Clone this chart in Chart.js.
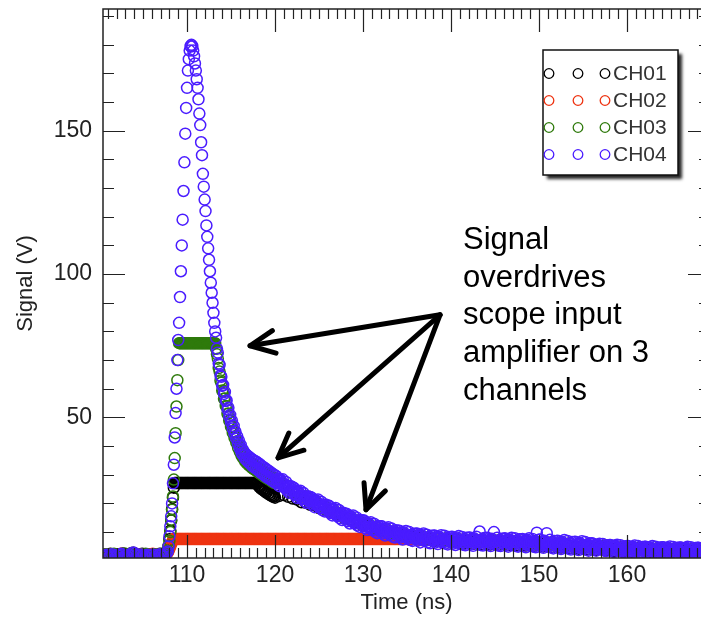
<!DOCTYPE html>
<html>
<head>
<meta charset="utf-8">
<style>
html,body{margin:0;padding:0;background:#fff;overflow:hidden;}
#wrap{width:720px;height:617px;}
canvas{display:block;}
</style>
<script src="https://cdn.jsdelivr.net/npm/chart.js@4.4.1/dist/chart.umd.min.js"></script>
</head>
<body>
<div id="wrap"><canvas id="c" width="720" height="617"></canvas></div>
<script>
// ---------------- DATA ----------------
const channelNames = ['CH01', 'CH02', 'CH03', 'CH04'];
const xTickLabels = [110, 120, 130, 140, 150, 160];
const yTickLabels = [50, 100, 150];
const xRange = [100.45, 169.43];
const yRange = [0.95, 192.5];

// Sampling windows: [start time (ns), sample interval (ns)]
const baseWin = [100.5, 0.2];
const pulseWin = [107.8, 0.1];
const tailWinFine = [120.125, 0.125];
const tailWinMid = [120.1875, 0.25];
const tailWinCoarse = [120.5, 0.5];
const lateWin = [138.5, 0.5];

// CH01 (black)
const ch01Base = [1.7,2.2,1.5,2.0,2.4,1.6,1.9,2.3,1.4,2.1,1.8,2.5,1.7,2.0,2.2,1.5,2.6,2.8,2.3,1.9,2.0,1.6,2.4,1.7,2.1,1.9,1.5,2.3,1.8,2.2,1.6,2.0,2.4,1.8,2.1,2.6,3.0];
const ch01Pulse = [3.0,5.0,7.5,10.5,14.0,18.0,22.0,25.5,
27.1,27.1,27.1,27.1,27.1,27.1,27.1,27.1,27.1,27.1,
27.1,27.1,27.1,27.1,27.1,27.1,27.1,27.1,27.1,27.1,
27.1,27.1,27.1,27.1,27.1,27.1,27.1,27.1,27.1,27.1,
27.1,27.1,27.1,27.1,27.1,27.1,27.1,27.1,27.1,27.1,
27.1,27.1,27.1,27.1,27.1,27.1,27.1,27.1,27.1,27.1,
27.1,27.1,27.1,27.1,27.1,27.1,27.1,27.1,27.1,27.1,
27.1,27.1,27.1,27.1,27.1,27.1,27.1,27.1,27.1,27.1,
27.1,27.1,27.1,27.1,27.1,27.1,27.1,27.1,27.1,27.1,
27.1,27.1,27.1,27.1,27.1,27.1,27.1,27.1,27.1,27.1,
27.1,27.1,27.1,27.1,27.1,
26.3,25.8,25.9,25.2,25.4,24.7,24.9,24.3,24.4,23.8,24.0,23.4,23.6,23.0,23.2,22.6,22.8,22.3,22.5,22.0];
const ch01Tail = [22.6,22.9,22.3,21.7,21.3,20.4,20.2,19.5,19.3,18.4,
18.2,17.3,16.8,16.1,15.5,14.6,14.4,13.4,13.1,12.2,
12.0,11.0,11.0,10.0,10.2,9.3,9.5,8.6,8.9,8.0,
8.4,7.5,7.9,7.1,7.6,6.8,7.5,6.6,7.3,6.4,
6.5,7.2,6.0,7.1,5.9,7.0,5.8,6.9,5.7,6.8,
5.6,6.7,5.5,6.6,5.4,6.5,5.3,6.4,5.2,6.2,
5.0,6.0,4.8,5.8,4.6,5.6,4.4,5.4,4.2,5.2,
4.0,5.0,3.8,4.8,3.6,4.6,3.4,4.4,3.2,4.3,
3.1,4.2,3.0,4.1,2.9,4.0,2.8,4.0,2.8,3.9,
2.7,3.9,2.7,3.8,2.6,3.8,2.6,3.7,2.6];

// CH02 (red)
const ch02Base = [1.9,1.5,2.2,1.7,2.0,2.3,1.4,1.8,2.1,1.6,2.4,1.9,1.5,2.2,1.8,2.0,2.5,2.7,2.2,1.8,2.1,1.7,2.3,1.6,2.0,2.2,1.7,1.9,2.4,1.5,2.1,1.8,2.2,2.0,1.7,2.3,2.6];
const ch02Pulse = [2.8,3.4,4.2,5.0,5.8,6.5,7.1,
7.6,7.6,7.6,7.6,7.6,7.6,7.6,7.6,7.6,7.6,
7.6,7.6,7.6,7.6,7.6,7.6,7.6,7.6,7.6,7.6,
7.6,7.6,7.6,7.6,7.6,7.6,7.6,7.6,7.6,7.6,
7.6,7.6,7.6,7.6,7.6,7.6,7.6,7.6,7.6,7.6,
7.6,7.6,7.6,7.6,7.6,7.6,7.6,7.6,7.6,7.6,
7.6,7.6,7.6,7.6,7.6,7.6,7.6,7.6,7.6,7.6,
7.6,7.6,7.6,7.6,7.6,7.6,7.6,7.6,7.6,7.6,
7.6,7.6,7.6,7.6,7.6,7.6,7.6,7.6,7.6,7.6,
7.6,7.6,7.6,7.6,7.6,7.6,7.6,7.6,7.6,7.6,
7.6,7.6,7.6,7.6,7.6,7.6,7.6,7.6,7.6,7.6,
7.6,7.6,7.6,7.6,7.6,7.6,7.6,7.6,7.6,7.6,
7.6,7.6,7.6,7.6,7.6,7.6,7.6,7.6,7.6,7.6,
7.6,7.6,7.6,7.6,7.6,7.6,7.6,7.6,7.6,7.6,
7.6,7.6,7.6,7.6,7.6,7.6,7.6,7.6,7.6,7.6,
7.6,7.6,7.6,7.6,7.6,7.6,7.6,7.6,7.6,7.6,
7.6,7.6,7.6,7.6,7.6,7.6,7.6,7.6,7.6,7.6,
7.6,7.6,7.6,7.6,7.6,7.6,7.6,7.6,7.6,7.6,
7.6,7.6,7.6,7.6,7.6,7.6,7.6,7.6,7.6,7.6,
7.6,7.6,7.6,7.6,7.6,7.6,7.6,7.6,7.6,7.6,
7.6,7.6,7.6,7.6,7.6,7.6,7.6,7.6,7.6,7.6,
7.6,7.6,7.6,7.6,7.6,7.6,7.6,7.6,7.6,7.6,
7.6,7.6,7.6,7.6,7.6,7.6,7.6,7.6,7.6,7.6,
7.6,7.6,7.6,7.6,7.6,7.6,7.6,7.6,7.6,7.6,
7.6,7.6,7.6,7.6,7.6,7.6,7.6,7.6,7.6,7.6,
7.6,7.6,7.6,7.6,7.6,7.6,7.6,7.6,7.6,7.6,
7.6,7.6,7.6,7.6,7.6,7.6,7.6,7.6,7.6,7.6,
7.6,7.6,7.6,7.6,7.6,7.6,7.6,7.6,7.6,7.6,
7.6,7.6,7.6,7.6,7.6,7.6,
7.5,7.6,7.4,7.5,7.3,7.5,7.2,7.4,7.2,7.3];
const ch02Late = [7.9,6.8,7.7,6.7,7.6,6.5,7.5,6.4,7.4,6.3,
7.4,6.2,7.3,6.1,7.2,6.1,7.1,6.0,7.0,5.9,
6.9,5.8,6.8,5.6,6.6,5.5,6.4,5.3,6.2,5.1,
6.0,4.9,5.8,4.7,5.6,4.5,5.4,4.3,5.2,4.1,
5.0,3.9,4.8,3.7,4.6,3.6,4.5,3.5,4.4,3.4,
4.3,3.3,4.3,3.2,4.2,3.2,4.1,3.1,4.1,3.1,
4.0,3.0,4.0];

// CH03 (green)
const ch03Base = [2.0,1.6,2.3,1.5,2.1,1.8,2.4,1.4,1.9,2.2,1.7,2.0,2.5,1.6,1.8,2.3,2.7,2.4,2.0,1.7,2.1,1.5,2.2,1.8,2.4,1.6,2.0,1.9,1.5,2.3,1.8,2.1,1.6,2.4,2.0,2.5,2.9];
const ch03Pulse = [3.5,5.2,7.0,10.0,14.3,17.8,22.4,28.3,35.8,44.5,53.8,63.0,70.0,
75.9,75.9,75.9,75.9,75.9,75.9,75.9,75.9,75.9,75.9,
75.9,75.9,75.9,75.9,75.9,75.9,75.9,75.9,75.9,75.9,
75.9,75.9,75.9,75.9,75.9,75.9,75.9,75.9,75.9,75.9,
75.9,75.9,75.9,75.9,75.9,75.9,75.9,75.9,75.9,75.9,
75.9,75.9,
74.0,72.0,70.5,67.2,66.0,62.9,62.1,59.4,59.0,56.5,
56.6,54.0,53.8,51.2,51.4,48.8,49.0,46.7,46.9,44.6,
45.1,42.8,43.3,41.2,41.7,39.4,40.3,38.0,38.9,36.6,
37.5,35.7,36.5,34.7,35.8,34.0,35.2,33.4,34.7,32.9,
34.2,32.3,33.8,31.9,33.4,31.5,33.0,31.0,32.6,30.6,
32.1,30.1,31.7,29.7,31.2,29.3,30.8,28.9,30.4,28.5,
30.0,28.1,29.6,27.7,29.2,27.3,28.8,27.0];
const ch03Tail = [28.3,25.9,26.2,23.7,24.1,21.8,22.5,20.4,21.0,18.9,
19.5,17.4,18.0,15.9,16.7,14.6,15.3,13.5,14.1,12.2,
12.9,11.1,11.9,10.3,11.1,9.5,10.2,8.9,9.6,8.3,
9.1,7.8,8.6,7.3,8.3,7.0,8.1,6.8,7.9,6.6,
7.7,6.4,7.5,6.3,7.5,6.2,7.4,6.2,7.3,6.0,
7.2,5.9,7.1,5.8,7.0,5.7,6.9,5.6,6.8,5.5,
6.7,5.3,6.5,5.1,6.3,4.9,6.1,4.7,5.9,4.5,
5.7,4.3,5.5,4.1,5.3,3.9,5.1,3.7,4.9,3.5,
4.7,3.4,4.6,3.3,4.5,3.2,4.4,3.1,4.4,3.1,
4.3,3.0,4.3,3.0,4.2,2.9,4.2,2.9,4.1];

// CH04 (blue)
const ch04Base = [1.8,1.4,2.1,1.2,1.9,2.3,1.6,1.3,2.0,1.7,2.4,2.2,1.5,1.9,1.3,1.8,2.6,2.9,2.5,2.1,1.7,2.2,1.5,1.9,1.4,2.1,1.8,1.6,2.2,1.3,2.0,1.7,2.3,1.9,1.5,2.2,2.7];
const ch04Pulse = [3.2,5.0,8.5,12.0,15.5,20.0,27.0,33.5,43.0,51.5,
60.0,70.0,77.0,83.0,92.0,101.0,110.0,119.0,129.0,139.0,
149.0,158.0,165.0,171.0,175.0,178.0,179.5,180.0,179.5,178.0,
176.0,173.5,171.0,168.0,165.0,161.0,156.0,152.0,146.0,141.5,
135.0,130.5,126.0,122.0,117.0,113.0,109.0,105.0,101.0,97.0,
93.5,90.0,86.5,83.0,80.0,77.8,74.0,72.6,68.8,68.3,
64.6,64.2,61.0,61.3,58.2,58.9,55.7,55.9,52.8,53.4,
50.3,50.9,48.2,48.9,46.1,47.0,44.2,45.0,42.6,43.4,
40.7,41.9,39.2,40.4,37.6,38.9,36.8,37.9,35.6,37.1,
35.0,36.6,34.3,36.1,33.8,35.6,33.1,35.2,32.7,34.8,
32.2,34.5,31.8,34.0,31.3,33.6,30.7,33.0,30.3,32.6,
29.8,32.2,29.3,31.7,28.9,31.3,28.6,30.8,28.1,30.4,
27.7,30.0,27.3];
const ch04Tail = [
29.6,26.9,28.3,26.0,28.3,26.7,28.4,25.7,
25.5,27.5,24.5,25.8,23.7,26.1,24.5,25.6,
25.5,22.9,24.2,21.9,24.3,22.7,24.4,21.7,
21.6,23.6,20.7,22.1,20.1,22.5,21.0,22.2,
22.1,19.6,21.0,18.7,21.1,19.6,21.4,18.7,
18.6,20.6,17.7,19.2,17.2,19.6,18.1,19.3,
19.2,16.6,18.0,15.8,18.2,16.6,18.4,15.7,
15.6,17.7,14.8,16.2,14.2,16.7,15.2,16.4,
16.4,13.8,15.3,13.0,15.5,13.9,15.8,13.1,
13.1,15.1,12.3,13.7,11.8,14.2,12.8,14.0,
14.0,11.4,12.9,10.7,13.1,11.6,13.4,10.8,
10.8,12.9,10.1,11.6,9.6,12.1,10.7,12.0,
12.0,9.5,11.0,8.8,11.3,9.8,11.7,9.1,
9.1,11.2,8.4,10.0,8.1,10.6,9.2,10.5,
10.5,8.1,9.6,7.4,9.9,8.5,10.4,7.8,
7.8,10.0,7.2,8.8,6.9,9.4,8.1,9.4,
9.5,7.0,8.6,6.4,9.0,7.5,9.5,6.9,
7.0,9.1,6.4,8.0,6.1,8.7,7.3,8.7,
8.8,6.4,7.9,5.8,8.4,7.0,8.9,6.4,
6.5,8.7,6.0,7.5,5.7,8.3,7.0,8.3,
8.4,6.0,7.6,5.5,8.1,6.6,8.6,6.0,
6.1,8.3,5.6,7.2,5.4,8.0,6.6,8.0,
8.1,5.7,7.3,5.2,7.8,6.4,8.4,5.9,
6.0,10.2,5.5,7.1,5.3,7.9,6.5,7.9,
8.0,5.6,7.2,5.1,7.7,6.3,10.0,5.7,
5.8,8.0,5.3,6.9,5.1,7.7,6.4,7.7,
7.8,5.4,7.0,4.9,7.5,6.1,8.0,5.5,
5.6,7.8,5.1,6.7,4.9,7.5,6.2,7.5,
7.6,5.2,6.8,4.7,7.3,5.9,7.8,5.3,
5.4,7.6,4.9,6.5,4.7,9.8,6.0,7.3,
7.4,5.0,6.6,4.5,7.0,5.6,9.6,5.0,
5.1,7.3,4.6,6.1,4.3,6.9,5.6,6.9,
7.0,4.6,6.2,4.1,6.6,5.2,7.2,4.6,
4.7,6.9,4.2,5.8,3.9,6.5,5.2,6.5,
6.6,4.2,5.8,3.7,6.2,4.8,6.8,4.2,
4.3,6.5,3.8,5.4,3.5,6.1,4.8,6.1,
5.9,4.0,5.3,3.5,5.6,4.4,5.9,4.0,
4.0,5.8,3.6,4.8,3.4,5.4,4.4,5.5,
5.5,3.6,4.9,3.1,5.2,4.1,5.6,3.6,
3.6,5.4,3.2,4.4,3.0,5.0,4.0,5.1,
5.1,3.2,4.5,2.8,4.9,3.7,5.3,3.3,
3.4,5.1,2.9,4.2,2.7,4.8,3.8,4.9,
4.9,3.0,4.3,2.6,4.7,3.5,5.1,3.1,
3.2,4.9,2.7,4.0,2.5,4.6,3.6,4.7,
4.7,2.8,4.1,2.4,4.5,3.4,5.0,3.0,
3.1,4.8,2.6,3.9,2.4,4.5,3.5,4.6,
4.6,2.7,4.0,2.3,4.4,3.3,4.9,2.9,
3.0,4.7,2.5,3.8,2.3,4.4,3.4,4.5,
4.5,2.6,3.9,2.2,4.3,3.2,4.8,2.8,
2.9,4.6,2.5,3.7];
const ch04TailMid = [
28.4,27.2,27.8,26.5, 26.5,25.1,25.7,24.3, 24.4,23.1,23.8,22.5, 22.6,21.4,22.1,20.9,
21.0,19.9,20.6,19.5, 19.6,18.4,19.2,18.0, 18.1,16.9,17.7,16.5, 16.6,15.5,16.2,15.1,
15.3,14.2,15.0,13.9, 14.1,13.0,13.8,12.7, 12.9,11.8,12.6,11.6, 11.8,10.8,11.7,10.7,
11.0,10.0,10.9,9.9, 10.2,9.2,10.1,9.1, 9.5,8.5,9.5,8.5, 8.9,8.0,9.0,8.0,
8.4,7.5,8.5,7.6, 8.0,7.2,8.2,7.3, 7.8,6.9,8.0,7.1, 7.6,6.7,7.8,6.9,
7.4,6.5,7.6,6.7, 7.2,6.4,7.4,6.6, 7.1,6.3,7.4,6.6, 7.1,6.3,7.3,6.5,
7.0,6.2,7.2,6.4, 6.9,6.1,7.1,6.3, 6.8,6.0,7.0,6.2, 6.7,5.9,6.9,6.1,
6.6,5.8,6.8,6.0, 6.5,5.7,6.7,5.9, 6.4,5.5,6.5,5.7, 6.2,5.3,6.3,5.5,
6.0,5.1,6.1,5.3, 5.8,4.9,5.9,5.1, 5.6,4.7,5.7,4.9, 5.4,4.5,5.5,4.7,
5.2,4.3,5.3,4.5, 5.0,4.1,5.1,4.3, 4.8,3.9,4.9,4.1, 4.6,3.7,4.7,3.9,
4.4,3.6,4.6,3.8, 4.3,3.5,4.5,3.7, 4.2,3.4,4.4,3.6, 4.1,3.3,4.3,3.5,
4.0,3.2,4.3,3.5, 4.0,3.2,4.2,3.4, 3.9,3.1,4.2,3.4, 3.9,3.1,4.1,3.3,
3.8,3.0,4.1,3.3, 3.8,3.0];

// Annotation (text and arrow anchors in data units)
const noteLines = ['Signal', 'overdrives', 'scope input', 'amplifier on 3', 'channels'];
const noteTextAnchor = {x: 141.36, y: 108.8};
const noteArrowFrom = {x: 138.75, y: 85.8};
const noteArrowTips = [{x: 117.16, y: 75.0}, {x: 120.34, y: 35.9}, {x: 130.34, y: 17.8}];

// ---------------- BUILD ----------------
const FONT = '"Liberation Sans", Arial, Helvetica, sans-serif';
const colors = {CH01: '#000000', CH02: '#EE3311', CH03: '#2F7A0C', CH04: '#4A1CFF'};

function build(segments) {
  const out = [];
  segments.forEach(([win, vals]) => {
    vals.forEach((v, i) => out.push({x: Math.round((win[0] + i * win[1]) * 10000) / 10000, y: v}));
  });
  return out;
}

const channelSegments = {
  CH01: [[baseWin, ch01Base], [pulseWin, ch01Pulse], [tailWinCoarse, ch01Tail]],
  CH02: [[baseWin, ch02Base], [pulseWin, ch02Pulse], [lateWin, ch02Late]],
  CH03: [[baseWin, ch03Base], [pulseWin, ch03Pulse], [tailWinCoarse, ch03Tail]],
  CH04: [[baseWin, ch04Base], [pulseWin, ch04Pulse], [tailWinFine, ch04Tail], [tailWinMid, ch04TailMid]]
};
const drawOrder = {CH01: 4, CH02: 3, CH03: 2, CH04: 1};

const datasets = channelNames.map(name => ({
  label: name,
  data: build(channelSegments[name]),
  order: drawOrder[name],
  showLine: false,
  pointStyle: 'circle',
  pointRadius: 5.5,
  pointHoverRadius: 5.5,
  pointBorderWidth: 1.5,
  pointBorderColor: colors[name],
  pointBackgroundColor: 'rgba(0,0,0,0)',
  borderColor: colors[name],
  backgroundColor: 'rgba(0,0,0,0)',
  clip: 0
}));

const INK = '#222';

function noPad(s) { s.paddingTop = 0; s.paddingBottom = 0; s.paddingLeft = 0; s.paddingRight = 0; }

const framePlugin = {
  id: 'idlFrame',
  afterDatasetsDraw(chart) {
    const {ctx, chartArea: a, scales: {x, y}} = chart;
    ctx.save();
    ctx.strokeStyle = INK;
    ctx.lineWidth = 1.5;
    ctx.strokeRect(a.left, a.top, a.right - a.left, a.bottom - a.top);
    ctx.lineWidth = 1.2;
    ctx.beginPath();
    for (let v = Math.ceil(x.min); v <= Math.floor(x.max); v++) {
      const px = Math.round(x.getPixelForValue(v)) + 0.5;
      const len = xTickLabels.includes(v) ? 23 : 10;
      ctx.moveTo(px, a.bottom); ctx.lineTo(px, a.bottom - len);
      ctx.moveTo(px, a.top); ctx.lineTo(px, a.top + len);
    }
    for (let v = Math.ceil(y.min / 10) * 10; v <= y.max; v += 10) {
      const py = Math.round(y.getPixelForValue(v)) + 0.5;
      const len = yTickLabels.includes(v) ? 22 : 11;
      ctx.moveTo(a.left, py); ctx.lineTo(a.left + len, py);
      ctx.moveTo(a.right, py); ctx.lineTo(a.right - len, py);
    }
    ctx.stroke();
    ctx.restore();
  }
};

const legendPlugin = {
  id: 'idlLegend',
  afterDraw(chart) {
    const ctx = chart.ctx;
    const bx = 543, by = 50, bw = 135, bh = 125;
    ctx.save();
    ctx.shadowColor = 'rgba(0,0,0,0.85)';
    ctx.shadowBlur = 3;
    ctx.shadowOffsetX = 4;
    ctx.shadowOffsetY = 4;
    ctx.fillStyle = '#fff';
    ctx.fillRect(bx, by, bw, bh);
    ctx.shadowColor = 'rgba(0,0,0,0)';
    ctx.lineWidth = 1.5;
    ctx.strokeStyle = '#111';
    ctx.strokeRect(bx, by, bw, bh);
    const symX = [549, 578, 605];
    chart.data.datasets.forEach((ds, i) => {
      const yy = 73.5 + i * 27;
      ctx.strokeStyle = ds.pointBorderColor;
      ctx.lineWidth = 1.3;
      symX.forEach(sx => { ctx.beginPath(); ctx.arc(sx, yy, 4.8, 0, Math.PI * 2); ctx.stroke(); });
      ctx.fillStyle = '#333';
      ctx.font = '21px ' + FONT;
      ctx.textBaseline = 'middle';
      ctx.textAlign = 'left';
      ctx.fillText(ds.label, 613, yy + 1);
    });
    ctx.restore();
  }
};

const notePlugin = {
  id: 'note',
  afterDraw(chart) {
    const {ctx, scales: {x, y}} = chart;
    const sx = x.getPixelForValue(noteArrowFrom.x), sy = y.getPixelForValue(noteArrowFrom.y);
    ctx.save();
    ctx.strokeStyle = '#000';
    ctx.lineWidth = 5;
    ctx.lineCap = 'round';
    ctx.lineJoin = 'round';
    noteArrowTips.forEach(p => {
      const tx = x.getPixelForValue(p.x), ty = y.getPixelForValue(p.y);
      ctx.beginPath(); ctx.moveTo(sx, sy); ctx.lineTo(tx, ty); ctx.stroke();
      const ang = Math.atan2(sy - ty, sx - tx);
      const L = 27, h = 25 * Math.PI / 180;
      ctx.beginPath();
      ctx.moveTo(tx + L * Math.cos(ang + h), ty + L * Math.sin(ang + h));
      ctx.lineTo(tx, ty);
      ctx.lineTo(tx + L * Math.cos(ang - h), ty + L * Math.sin(ang - h));
      ctx.stroke();
    });
    ctx.fillStyle = '#000';
    ctx.font = '31px ' + FONT;
    ctx.textAlign = 'left';
    ctx.textBaseline = 'alphabetic';
    const tx0 = x.getPixelForValue(noteTextAnchor.x), ty0 = y.getPixelForValue(noteTextAnchor.y);
    noteLines.forEach((s, i) => ctx.fillText(s, tx0, ty0 + i * 37.7));
    ctx.restore();
  }
};

Chart.defaults.font.family = FONT;

new Chart(document.getElementById('c'), {
  type: 'scatter',
  data: {datasets},
  options: {
    responsive: false,
    maintainAspectRatio: false,
    devicePixelRatio: 1,
    animation: false,
    events: [],
    layout: {padding: {left: 0, top: 9, right: 10, bottom: 0}},
    plugins: {legend: {display: false}, tooltip: {enabled: false}},
    scales: {
      x: {
        type: 'linear', position: 'bottom',
        min: xRange[0], max: xRange[1],
        afterBuildTicks: s => { s.ticks = xTickLabels.map(v => ({value: v})); },
        afterFit: s => { s.height = 59; noPad(s); },
        grid: {display: false, drawTicks: false},
        border: {display: false},
        ticks: {font: {family: FONT, size: 23}, color: INK, padding: 4, maxRotation: 0, autoSkip: false, callback: v => String(v)},
        title: {display: true, text: 'Time (ns)', font: {family: FONT, size: 22}, color: INK, padding: {top: 0, bottom: 1}}
      },
      y: {
        type: 'linear', position: 'left',
        min: yRange[0], max: yRange[1],
        afterBuildTicks: s => { s.ticks = yTickLabels.map(v => ({value: v})); },
        afterFit: s => { s.width = 103; noPad(s); },
        grid: {display: false, drawTicks: false},
        border: {display: false},
        ticks: {font: {family: FONT, size: 23}, color: INK, padding: 11, autoSkip: false, callback: v => String(v)},
        title: {display: true, text: 'Signal (V)', font: {family: FONT, size: 22}, color: INK, padding: {top: 13, bottom: 0}}
      }
    }
  },
  plugins: [framePlugin, legendPlugin, notePlugin]
});
</script>
</body>
</html>
